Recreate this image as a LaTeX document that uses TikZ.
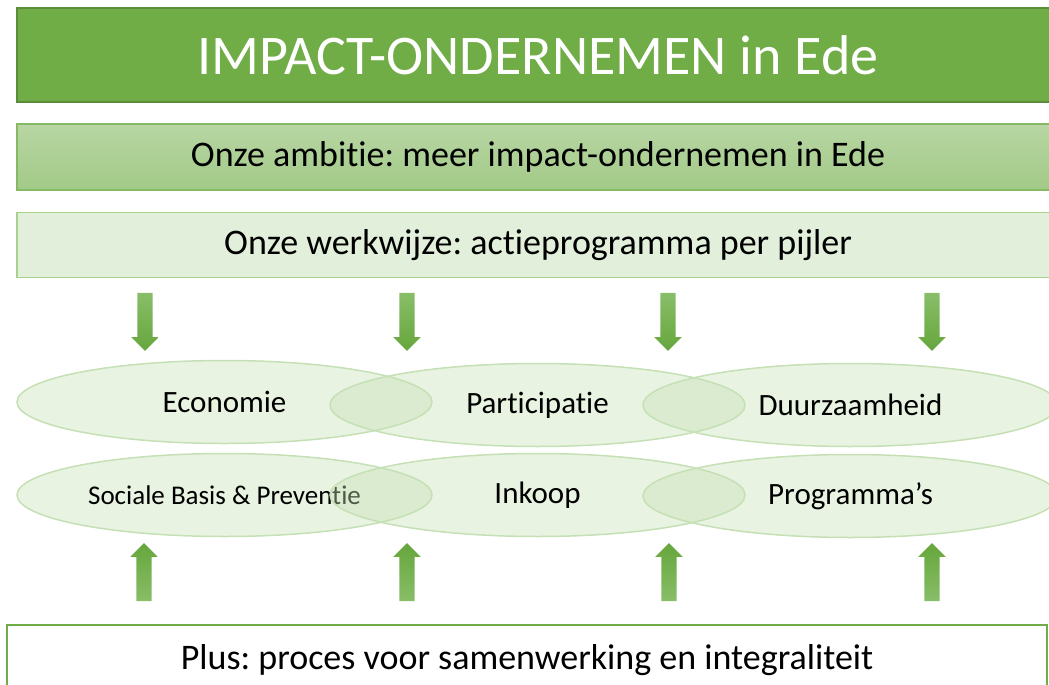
\documentclass[tikz,border=0pt]{standalone}
\usepackage{fontspec}
\setmainfont{Carlito}[RawFeature={-liga;-clig;-calt;-dlig;-ccmp}]
\frenchspacing
\usetikzlibrary{shapes.geometric,shapes.arrows}

\definecolor{groen}{HTML}{70AD47}
\definecolor{donkergroen}{HTML}{5B8C3A}
\definecolor{lichtgroen}{HTML}{E2EFDA}
\definecolor{randgroen}{HTML}{A9D18E}
\definecolor{pijlicht}{HTML}{88BE68}
\definecolor{pijldonker}{HTML}{66A63C}
\definecolor{ovaal}{HTML}{C5E0B4}

\begin{document}
\begin{tikzpicture}[x=1pt, y=-1pt,
	balk/.style={draw, rectangle, inner sep=0pt, minimum width=1042pt},
	pijl/.style={single arrow, draw=none, inner sep=7.5pt, minimum height=58pt, single arrow head extend=6pt},
	pijlneer/.style={pijl, shape border rotate=270, top color=pijlicht, bottom color=pijldonker},
	pijlop/.style={pijl, shape border rotate=90, top color=pijldonker, bottom color=pijlicht},
	pijler/.style={ellipse, draw=ovaal, line width=1.5pt, fill=ovaal, fill opacity=0.4, text opacity=1, minimum width=415pt, minimum height=83pt, inner sep=0pt, font=\fontsize{31}{31}\selectfont}]
	\useasboundingbox (0,0) rectangle (1049,685);
	\clip (0,0) rectangle (1049,685);

	%Balken bovenaan
	\node[balk, fill=groen, draw=donkergroen, line width=2pt, minimum height=94pt, text=white, font=\fontsize{56}{56}\selectfont] (titel) at (538,55) {IMPACT-ONDERNEMEN in Ede};
	\node[balk, top color=groen!50!white, bottom color=groen!65!white, draw=groen!85!white, line width=1.2pt, minimum height=66pt, font=\fontsize{36}{36}\selectfont] (ambitie) at (538,157) {Onze ambitie: meer impact-ondernemen in Ede};
	\node[balk, fill=lichtgroen, draw=randgroen, line width=1.5pt, minimum height=65pt, font=\fontsize{36}{36}\selectfont] (werkwijze) at (538,245) {Onze werkwijze: actieprogramma per pijler};

	%Pijlen naar beneden
	\node[pijlneer] (n1) at (145,318) {};
	\node[pijlneer] (n2) at (407,318) {};
	\node[pijlneer] (n3) at (668,318) {};
	\node[pijlneer] (n4) at (932,318) {};

	%De pijlers
	\node[pijler] (economie) at (224.5,402) {Economie};
	\node[pijler] (participatie) at (537.5,405) {Participatie};
	\node[pijler] (duurzaam) at (850.5,405) {Duurzaamheid};
	\node[pijler, font=\fontsize{27}{27}\selectfont] (sociaal) at (224.5,495) {Sociale Basis \& Preventie};
	\node[pijler] (inkoop) at (537.5,495) {Inkoop};
	\node[pijler] (programmas) at (850.5,496) {Programma’s};

	%Pijlen naar boven
	\node[pijlop] (o1) at (144,576) {};
	\node[pijlop] (o2) at (407,576) {};
	\node[pijlop] (o3) at (669,576) {};
	\node[pijlop] (o4) at (932,576) {};

	%Onderste balk
	\node[balk, fill=white, draw=groen, line width=1.5pt, minimum width=1040pt, minimum height=70pt, font=\fontsize{36}{36}\selectfont] (plus) at (527,660) {Plus: proces voor samenwerking en integraliteit};
\end{tikzpicture}
\end{document}
